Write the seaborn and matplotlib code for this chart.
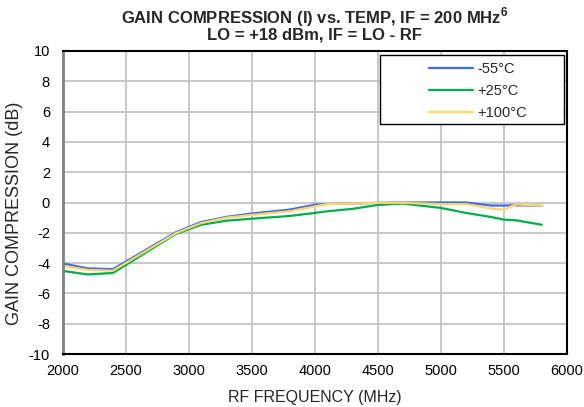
import numpy as np
import pandas as pd
import matplotlib
matplotlib.use("Agg")
import matplotlib.pyplot as plt
from matplotlib.patches import Rectangle
import seaborn as sns

freq = [2000, 2200, 2400, 2900, 3100, 3300, 3500, 3800, 4000, 4100, 4300,
        4500, 4700, 5000, 5200, 5400, 5500, 5600, 5800]
m55 = [-4.02, -4.35, -4.40, -1.96, -1.29, -0.95, -0.73, -0.47, -0.15, -0.10, -0.07,
       -0.02, 0.00, 0.00, 0.00, -0.20, -0.20, -0.18, -0.22]
p25 = [-4.51, -4.75, -4.65, -2.07, -1.47, -1.20, -1.07, -0.89, -0.69, -0.58, -0.42,
       -0.16, -0.07, -0.36, -0.69, -0.96, -1.13, -1.18, -1.47]
p100 = [-4.18, -4.45, -4.50, -2.02, -1.36, -1.00, -0.82, -0.58, -0.26, -0.10, -0.07,
        -0.02, -0.02, -0.11, -0.11, -0.40, -0.47, -0.12, -0.22]
series = ["-55°C", "+25°C", "+100°C"]
colors = ["#3D6BF0", "#00AD4E", "#FFD766"]
xticks = [2000, 2500, 3000, 3500, 4000, 4500, 5000, 5500, 6000]
yticks = list(range(-10, 11, 2))

df = pd.concat([
    pd.DataFrame({"freq": freq, "val": v, "temp": s})
    for s, v in zip(series, [m55, p25, p100])
], ignore_index=True)

sns.set_theme(style="white")
plt.rcParams["font.family"] = ["Liberation Sans", "DejaVu Sans"]
plt.rcParams["mathtext.fontset"] = "custom"
plt.rcParams["mathtext.rm"] = "Liberation Sans"
plt.rcParams["mathtext.bf"] = "Liberation Sans:bold"
plt.rcParams["axes.unicode_minus"] = False

W, H = 584, 407
fig = plt.figure(figsize=(W / 100, H / 100), dpi=100)
ax = fig.add_axes([62.5 / W, 53 / H, (567 - 62.5) / W, (354 - 51) / H])

sns.lineplot(data=df, x="freq", y="val", hue="temp", hue_order=series,
             palette=colors, linewidth=1.6, ax=ax, sort=False, estimator=None)

ax.set_xlim(2000, 6000)
ax.set_ylim(-10, 10)
ax.set_xticks(xticks)
ax.set_yticks(yticks)
ax.grid(True, color="#C4C4C4", linewidth=1.3)
ax.set_axisbelow(True)
ax.tick_params(axis="both", length=0, labelsize=10.5, colors="black")
ax.tick_params(axis="y", pad=9)
ax.tick_params(axis="x", pad=7)
for side in ["top", "right", "bottom"]:
    ax.spines[side].set_color("black")
    ax.spines[side].set_linewidth(1.5)
ax.spines["left"].set_color("#808080")
ax.spines["left"].set_linewidth(2.0)

ax.set_xlabel("RF FREQUENCY (MHz)", fontsize=11.5, labelpad=9)
ax.set_ylabel("")
fig.text(15 / W, 1 - 213 / H, "GAIN COMPRESSION (dB)", rotation=90,
         ha="center", va="center", fontsize=13)

fig.text(314.75 / W, 1 - 17.5 / H,
         r"GAIN COMPRESSION (I) vs. TEMP, IF = 200 MHz$^{\mathbf{6}}$",
         ha="center", va="center", fontsize=12, fontweight="bold")
fig.text(314.75 / W, 1 - 35.5 / H, "LO = +18 dBm, IF = LO - RF",
         ha="center", va="center", fontsize=12, fontweight="bold")

# legend frame (Excel style, wider than its contents)
fig.patches.append(Rectangle((380 / W, 1 - 124 / H), (564 - 380) / W, (124 - 55) / H,
                             transform=fig.transFigure, facecolor="white",
                             edgecolor="black", linewidth=1.0, zorder=5))
leg = ax.legend(loc="upper left", bbox_to_anchor=(419 / W, 1 - 52 / H),
                bbox_transform=fig.transFigure, frameon=False, fontsize=10.5,
                handlelength=3.0, borderpad=0.2, labelspacing=0.55,
                handletextpad=0.3)
leg.set_zorder(6)
leg.set_title(None)
ax.legend_ = None
fig.legends.append(leg)
leg.figure = fig

fig.savefig("out.png", dpi=100)
